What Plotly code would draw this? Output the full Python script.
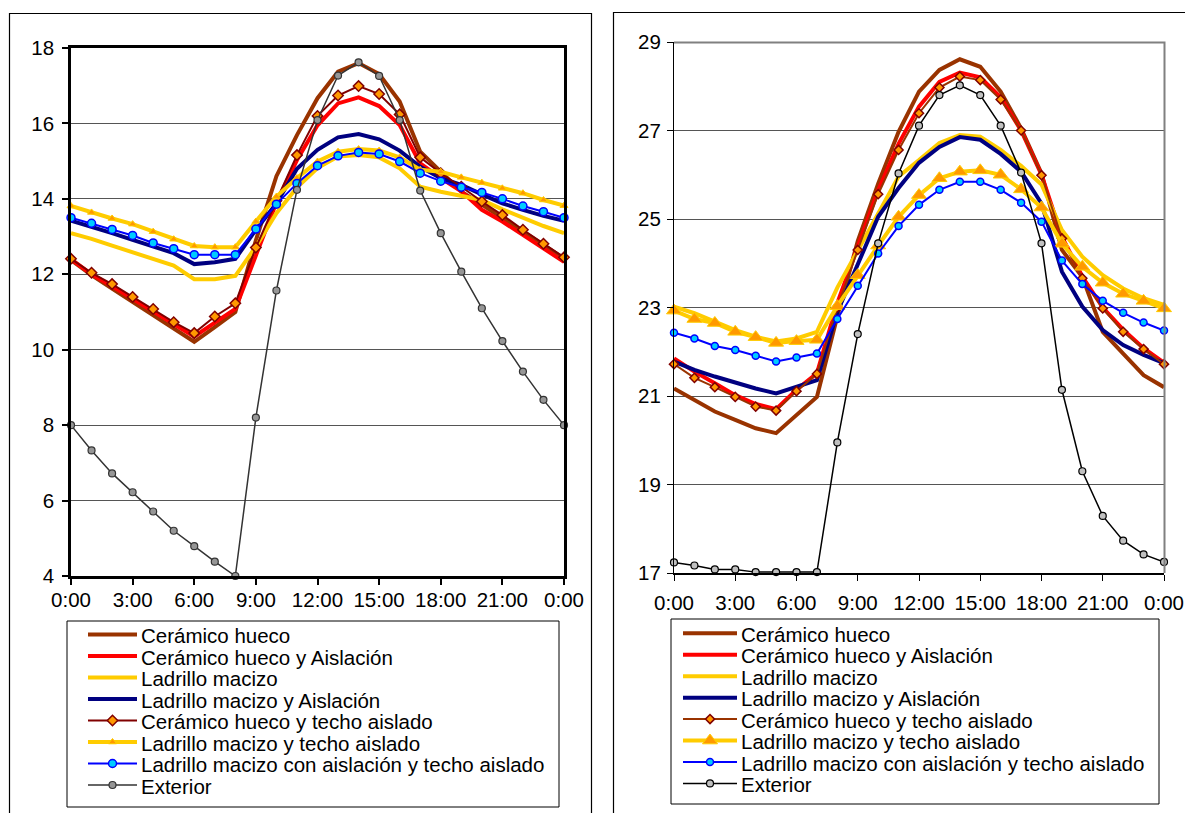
import plotly.graph_objects as go

# ---------------- data ----------------
hours = list(range(25))
tick_vals = [0, 3, 6, 9, 12, 15, 18, 21, 24]
tick_text = ["0:00", "3:00", "6:00", "9:00", "12:00", "15:00", "18:00", "21:00", "0:00"]

series_names = [
    "Cerámico hueco",
    "Cerámico hueco y Aislación",
    "Ladrillo macizo",
    "Ladrillo macizo y Aislación",
    "Cerámico hueco y techo aislado",
    "Ladrillo macizo y techo aislado",
    "Ladrillo macizo con aislación y techo aislado",
    "Exterior",
]

# Left chart
ceramico_L = [12.38, 11.98, 11.62, 11.27, 10.92, 10.57, 10.21, 10.6, 11.0, 12.9, 14.6, 15.69, 16.67, 17.37, 17.6,
              17.31, 16.58, 15.25, 14.72, 14.19, 13.85, 13.5, 13.15, 12.8, 12.42]
ceramico_aisl_L = [12.4, 12.0, 11.68, 11.35, 11.02, 10.68, 10.35, 10.72, 11.08, 12.5, 13.9, 15.03, 15.95, 16.53, 16.69,
                   16.46, 15.96, 14.94, 14.55, 14.2, 13.71, 13.4, 13.05, 12.7, 12.33]
ladrillo_L = [13.09, 12.94, 12.76, 12.58, 12.41, 12.23, 11.87, 11.87, 11.96, 12.73, 13.62, 14.3, 14.82, 15.12, 15.16,
              15.1, 14.81, 14.32, 14.19, 14.08, 13.97, 13.72, 13.49, 13.28, 13.09]
ladrillo_aisl_L = [13.42, 13.26, 13.09, 12.91, 12.73, 12.56, 12.27, 12.32, 12.41, 13.18, 13.88, 14.8, 15.3, 15.63, 15.72,
                   15.58, 15.28, 14.85, 14.55, 14.37, 14.12, 13.88, 13.71, 13.55, 13.42]
ceramico_techo_L = [12.41, 12.04, 11.74, 11.4, 11.08, 10.73, 10.44, 10.88, 11.23, 12.71, 13.95, 15.16, 16.2, 16.74, 16.99,
                    16.78, 16.24, 15.1, 14.68, 14.32, 13.93, 13.57, 13.18, 12.81, 12.45]
ladrillo_techo_L = [13.81, 13.64, 13.48, 13.33, 13.13, 12.93, 12.75, 12.72, 12.72, 13.4, 14.06, 14.55, 14.99, 15.25, 15.32,
                    15.28, 15.1, 14.77, 14.72, 14.57, 14.43, 14.28, 14.15, 13.97, 13.82]
ladrillo_aisl_techo_L = [13.5, 13.35, 13.19, 13.03, 12.83, 12.68, 12.52, 12.52, 12.52, 13.2, 13.86, 14.41, 14.88, 15.14,
                         15.23, 15.19, 14.99, 14.68, 14.47, 14.31, 14.17, 14.0, 13.81, 13.66, 13.5]
exterior_L = [8.0, 7.33, 6.72, 6.22, 5.71, 5.2, 4.79, 4.38, 4.0, 8.2, 11.57, 14.24, 16.09, 17.27, 17.62, 17.26, 16.09,
              14.22, 13.09, 12.07, 11.1, 10.23, 9.42, 8.67, 8.0]

# Right chart
ceramico_R = [21.17, 20.91, 20.65, 20.46, 20.27, 20.16, 20.57, 20.98, 22.8, 24.5, 25.8, 26.97, 27.88, 28.37, 28.61,
              28.44, 27.88, 27.05, 26.03, 24.3, 23.69, 22.45, 21.96, 21.47, 21.2]
ceramico_aisl_R = [21.85, 21.55, 21.29, 21.02, 20.82, 20.7, 21.14, 21.51, 23.1, 24.35, 25.65, 26.7, 27.54, 28.1, 28.31,
                   28.2, 27.75, 27.0, 26.0, 24.6, 23.7, 23.0, 22.5, 22.08, 21.75]
ladrillo_R = [23.02, 22.87, 22.68, 22.49, 22.34, 22.23, 22.3, 22.45, 23.45, 24.3, 25.13, 25.96, 26.33, 26.72, 26.9,
              26.86, 26.56, 26.2, 25.78, 24.75, 24.15, 23.73, 23.43, 23.21, 23.06]
ladrillo_aisl_R = [21.78, 21.59, 21.44, 21.3, 21.17, 21.06, 21.2, 21.36, 22.9, 24.0, 25.05, 25.7, 26.27, 26.63, 26.85,
                   26.79, 26.47, 26.07, 25.35, 23.81, 23.02, 22.49, 22.15, 21.93, 21.74]
ceramico_techo_R = [21.72, 21.41, 21.2, 20.98, 20.76, 20.67, 21.11, 21.5, 23.0, 24.3, 25.56, 26.56, 27.39, 27.97, 28.22,
                    28.14, 27.7, 27.0, 25.99, 24.56, 23.66, 22.98, 22.45, 22.06, 21.72]
ladrillo_techo_R = [22.93, 22.74, 22.65, 22.45, 22.33, 22.2, 22.24, 22.27, 23.03, 23.73, 24.4, 25.05, 25.54, 25.92,
                    26.07, 26.1, 26.0, 25.67, 25.26, 24.44, 23.92, 23.56, 23.31, 23.15, 22.98]
ladrillo_aisl_techo_R = [22.43, 22.3, 22.13, 22.04, 21.91, 21.78, 21.87, 21.96, 22.74, 23.49, 24.22, 24.84, 25.32,
                         25.66, 25.84, 25.84, 25.66, 25.37, 24.94, 24.06, 23.53, 23.15, 22.88, 22.66, 22.48]
exterior_R = [17.24, 17.17, 17.08, 17.08, 17.02, 17.02, 17.02, 17.02, 19.95, 22.4, 24.45, 26.03, 27.11, 27.8, 28.02,
              27.8, 27.11, 26.05, 24.45, 21.14, 19.3, 18.29, 17.73, 17.42, 17.25]

left_series = [ceramico_L, ceramico_aisl_L, ladrillo_L, ladrillo_aisl_L,
               ceramico_techo_L, ladrillo_techo_L, ladrillo_aisl_techo_L, exterior_L]
right_series = [ceramico_R, ceramico_aisl_R, ladrillo_R, ladrillo_aisl_R,
                ceramico_techo_R, ladrillo_techo_R, ladrillo_aisl_techo_R, exterior_R]

# ---------------- styles ----------------
FONT = "Liberation Sans, Arial, sans-serif"
W, H = 1185, 813


def styles(side):
    tri_size = 7 if side == "L" else 13
    ext_line = "#333333" if side == "L" else "#000000"
    ext_fill = "#969696" if side == "L" else "#C0C0C0"
    diam_line = "#800000" if side == "L" else "#993300"
    diam_size = 8 if side == "L" else 7
    circ_size = 8 if side == "L" else 7
    return [
        dict(line=dict(color="#993300", width=4), mode="lines"),
        dict(line=dict(color="#FF0000", width=4), mode="lines"),
        dict(line=dict(color="#FFCC00", width=4), mode="lines"),
        dict(line=dict(color="#000080", width=4), mode="lines"),
        dict(line=dict(color=diam_line, width=2), mode="lines+markers",
             marker=dict(symbol="diamond", size=diam_size, color="#FF9900", line=dict(color="#800000", width=1.5))),
        dict(line=dict(color="#FFCC00", width=4), mode="lines+markers",
             marker=dict(symbol="triangle-up", size=tri_size, color="#FF9900", line=dict(color="#FFCC00", width=1))),
        dict(line=dict(color="#0000FF", width=2), mode="lines+markers",
             marker=dict(symbol="circle", size=circ_size, color="#00CCFF", line=dict(color="#0000FF", width=1.5))),
        dict(line=dict(color=ext_line, width=1.5), mode="lines+markers",
             marker=dict(symbol="circle", size=7, color=ext_fill, line=dict(color=ext_line, width=1.2))),
    ]


fig = go.Figure()

for side, data, xa, ya in (("L", left_series, "x", "y"), ("R", right_series, "x2", "y2")):
    st = styles(side)
    for name, vals, s in zip(series_names, data, st):
        fig.add_trace(go.Scatter(x=hours, y=vals, name=name, xaxis=xa, yaxis=ya,
                                 showlegend=False, cliponaxis=False, **s))

# ---------------- manual legends (pixel overlay axis) ----------------
legend_cfg = {
    "L": dict(box=(67, 621, 559, 807), x0=88, x1=137, tx=139, y0=634.5, dy=21.5),
    "R": dict(box=(671, 619, 1159, 804), x0=683, x1=737, tx=739, y0=633.3, dy=21.45),
}
annotations = []
shapes = []
for side in ("L", "R"):
    cfg = legend_cfg[side]
    st = styles(side)
    for i, (name, s) in enumerate(zip(series_names, st)):
        yy = cfg["y0"] + i * cfg["dy"]
        fig.add_trace(go.Scatter(x=[cfg["x0"], cfg["x1"]], y=[yy, yy], xaxis="x3", yaxis="y3",
                                 mode="lines", line=s["line"], showlegend=False, hoverinfo="skip"))
        if "marker" in s:
            fig.add_trace(go.Scatter(x=[(cfg["x0"] + cfg["x1"]) / 2], y=[yy], xaxis="x3", yaxis="y3",
                                     mode="markers", marker=s["marker"], showlegend=False,
                                     hoverinfo="skip", cliponaxis=False))
        annotations.append(dict(x=cfg["tx"], y=yy + 1, xref="x3", yref="y3", text=name, showarrow=False,
                                xanchor="left", yanchor="middle",
                                font=dict(family=FONT, size=20.5, color="#000000")))
    bx0, by0, bx1, by1 = cfg["box"]
    shapes.append(dict(type="rect", xref="x3", yref="y3", x0=bx0, y0=by0, x1=bx1, y1=by1,
                       line=dict(color="#000000", width=1)))

# outer frames of each chart
shapes += [
    dict(type="path", xref="x3", yref="y3", path="M 9.5 840 L 9.5 13.5 L 591.5 13.5 L 591.5 840",
         line=dict(color="#000000", width=1.2)),
    dict(type="path", xref="x3", yref="y3", path="M 613.5 840 L 613.5 12.5 L 1200 12.5",
         line=dict(color="#000000", width=1.2)),
    # gray top / right border of the right plot area
    dict(type="path", xref="x3", yref="y3", path="M 674 42.5 L 1164.5 42.5 L 1164.5 573",
         line=dict(color="#808080", width=2)),
]


# ---------------- layout ----------------
def px_x(p):
    return p / W


def px_y(p):
    return 1 - p / H


axis_font = dict(family=FONT, size=20.5, color="#000000")

fig.update_layout(
    template="none",
    width=W, height=H,
    margin=dict(l=0, r=0, t=0, b=0, pad=0),
    paper_bgcolor="white", plot_bgcolor="rgba(0,0,0,0)",
    showlegend=False,
    annotations=annotations,
    shapes=shapes,
    xaxis=dict(domain=[px_x(71), px_x(564)], range=[0, 24], tickvals=tick_vals, ticktext=tick_text,
               ticks="outside", ticklen=6, tickwidth=1.5, tickcolor="#000000", tickfont=axis_font,
               showline=True, linecolor="#000000", linewidth=2.5, mirror=True, showgrid=False,
               zeroline=False, anchor="y", automargin=False, ticklabelstandoff=-2),
    yaxis=dict(domain=[px_y(576), px_y(48)], range=[4, 18], dtick=2, tick0=4,
               ticks="outside", ticklen=6, tickwidth=1.5, tickcolor="#000000", tickfont=axis_font,
               showline=True, linecolor="#000000", linewidth=2.5, mirror=True,
               showgrid=True, gridcolor="#555555", gridwidth=1.2, zeroline=False, anchor="x",
               automargin=False, ticklabelstandoff=4),
    xaxis2=dict(domain=[px_x(674), px_x(1164)], range=[0, 24], tickvals=tick_vals, ticktext=tick_text,
                ticks="outside", ticklen=6, tickwidth=1, tickcolor="#000000", tickfont=axis_font,
                showline=True, linecolor="#000000", linewidth=1.5, showgrid=False,
                zeroline=False, anchor="y2", automargin=False, ticklabelstandoff=5),
    yaxis2=dict(domain=[px_y(573), px_y(42)], range=[17, 29], dtick=2, tick0=17,
                ticks="outside", ticklen=6, tickwidth=1, tickcolor="#000000", tickfont=axis_font,
                showline=True, linecolor="#000000", linewidth=1.2,
                showgrid=True, gridcolor="#555555", gridwidth=1.2, zeroline=False, anchor="x2",
                automargin=False, ticklabelstandoff=2),
    xaxis3=dict(domain=[0, 1], range=[0, W], visible=False, fixedrange=True, anchor="y3", automargin=False),
    yaxis3=dict(domain=[0, 1], range=[H, 0], visible=False, fixedrange=True, anchor="x3", automargin=False),
)

fig.write_html("out.html", config={"displayModeBar": False},
               post_script="document.body.style.margin='0';document.body.style.overflow='hidden';")
